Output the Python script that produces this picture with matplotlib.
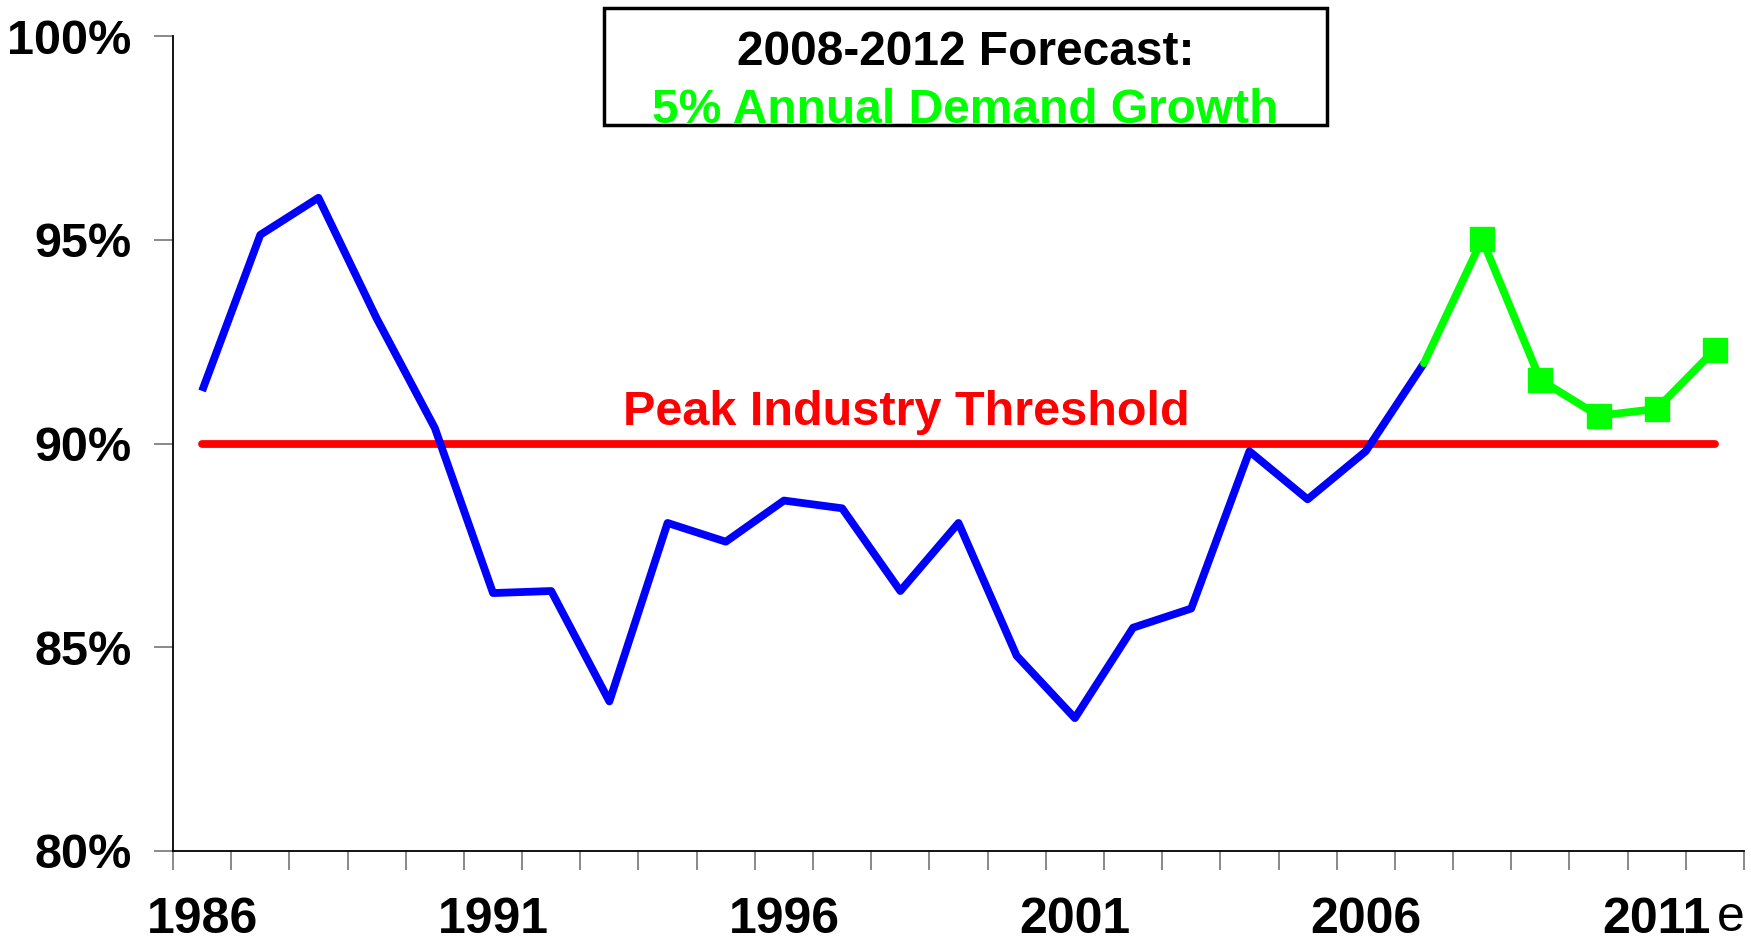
import matplotlib
matplotlib.use("Agg")
import matplotlib.pyplot as plt
import numpy as np

years = list(range(1986, 2013))
actual_years = list(range(1986, 2008))
actual_vals = [91.29, 95.12, 96.03, 93.07, 90.38, 86.33, 86.38, 83.67, 88.05, 87.59,
               88.60, 88.41, 86.38, 88.05, 84.79, 83.26, 85.48, 85.95, 89.81, 88.63,
               89.81, 91.97]
forecast_years = [2007, 2008, 2009, 2010, 2011, 2012]
forecast_vals = [91.97, 95.01, 91.56, 90.68, 90.85, 92.30]
threshold = 90.0
ytick_vals = [80, 85, 90, 95, 100]
ytick_labels = ["80%", "85%", "90%", "95%", "100%"]
xlabel_years = [1986, 1991, 1996, 2001, 2006, 2011]
title_line1 = "2008-2012 Forecast:"
title_line2 = "5% Annual Demand Growth"
threshold_label = "Peak Industry Threshold"

FONT = "Liberation Sans"
W, H = 1751, 942
fig = plt.figure(figsize=(W / 100, H / 100), dpi=100)
ax = fig.add_axes([173 / W, 1 - 851 / H, (1744 - 173) / W, (851 - 36) / H])

def xi(y):
    return np.array(y) - years[0]

ax.plot(xi([years[0], years[-1]]), [threshold, threshold], color="#FF0000", lw=5.6,
        solid_capstyle="round", zorder=2)
ax.plot(xi(actual_years), actual_vals, color="#0000FF", lw=5.6, zorder=3,
        solid_joinstyle="round", solid_capstyle="butt")
ax.plot(xi(forecast_years), forecast_vals, color="#00FF00", lw=5.6, zorder=4,
        solid_joinstyle="round", solid_capstyle="round")
ax.plot(xi(forecast_years[1:]), forecast_vals[1:], ls="none", marker="s",
        markersize=17, color="#00FF00", zorder=5)

ax.set_xlim(-0.5, len(years) - 0.5)
ax.set_ylim(80, 100)

for s in ["top", "right"]:
    ax.spines[s].set_visible(False)
ax.spines["left"].set_linewidth(1.3)
ax.spines["bottom"].set_linewidth(1.3)

ax.set_yticks(ytick_vals)
ax.set_yticklabels(ytick_labels, fontfamily=FONT, fontweight="bold", fontsize=35)
ax.tick_params(axis="y", length=14, width=1.3, color="#808080", pad=16)

ax.set_xticks(np.arange(-0.5, len(years), 1.0), minor=True)
ax.set_xticks(xi(xlabel_years))
ax.set_xticklabels([str(y) for y in xlabel_years], fontfamily=FONT,
                   fontweight="bold", fontsize=36)
ax.tick_params(axis="x", which="major", length=0, pad=33)
ax.tick_params(axis="x", which="minor", length=14, width=1.3, color="#808080")

fig.text(1731 / W, 1 / H, "e", fontfamily=FONT, fontsize=36,
         ha="center", va="bottom")

ax.text(xi(1998) + 0.1, 90.75, threshold_label, color="#FF0000", fontfamily=FONT,
        fontweight="bold", fontsize=35, ha="center", va="center", zorder=6)

# title box
box_l, box_r, box_b, box_t = 604 / W, 1327 / W, 1 - 125 / H, 1 - 8 / H
fig.patches.append(plt.Rectangle((box_l, box_b), box_r - box_l, box_t - box_b,
                                 transform=fig.transFigure, fill=False,
                                 edgecolor="black", lw=2.5, zorder=10))
fig.text((box_l + box_r) / 2, 1 - 65 / H, title_line1, fontfamily=FONT,
         fontweight="bold", fontsize=34.5, ha="center", va="baseline", color="black")
fig.text((box_l + box_r) / 2, 1 - 123 / H, title_line2, fontfamily=FONT,
         fontweight="bold", fontsize=34.5, ha="center", va="baseline", color="#00FF00")

fig.savefig("out.png", dpi=100)
